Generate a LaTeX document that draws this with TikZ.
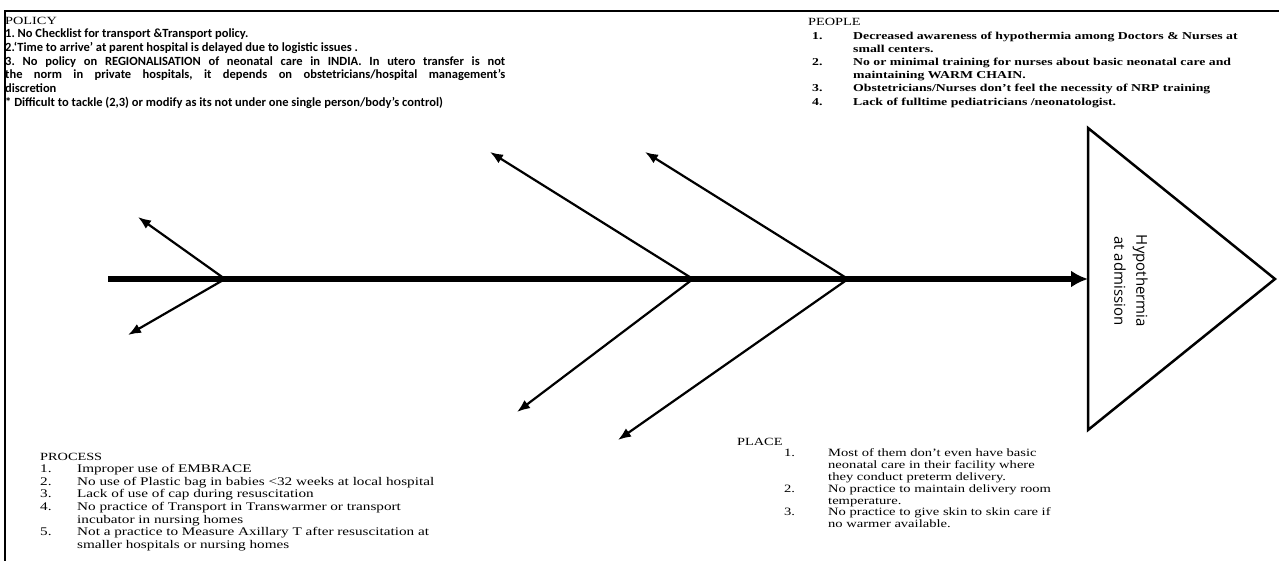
\documentclass[tikz,border=0pt]{standalone}
\usepackage{fontspec}
\setmainfont{Liberation Serif}
\newfontfamily\wordserif[FakeStretch=1.3]{Liberation Serif}
\newfontfamily\wordsans{Carlito}
\newfontfamily\boxsans{Open Sans}
\usepackage{tikz}
\usetikzlibrary{arrows.meta}
\tikzset{>={Latex[length=13pt,width=10pt]}}
\tikzset{
  spine/.style={line width=6pt, -{Latex[length=17pt,width=17pt]}},
  bone/.style={line width=2.2pt, ->},
  heading/.style={anchor=base west, inner sep=0pt, font=\wordserif\fontsize{11}{13}\selectfont},
  listtext/.style={anchor=base west, inner sep=0pt, align=left},
}
\frenchspacing

\begin{document}
\begin{tikzpicture}[x=1pt, y=-1pt]
            \useasboundingbox (0,0) rectangle (1279,561);

            % the four groups of causes
            \node [heading] (policy) at (5,25) {POLICY};
            \node [listtext, font=\wordsans\bfseries\fontsize{12.5}{13.8}\selectfont] (policylist) at (5,37.5) {%
                \begin{tabular}[t]{@{}l@{}}
                1. No Checklist for transport \&Transport policy.\\
                2.‘Time to arrive’ at parent hospital is delayed due to logistic issues .\\
                \makebox[500pt][s]{3. No policy on REGIONALISATION of neonatal care in INDIA. In utero transfer is not}\\
                \makebox[500pt][s]{the norm in private hospitals, it depends on obstetricians/hospital management’s}\\
                discretion\\
                \relax* Difficult to tackle (2,3) or modify as its not under one single person/body’s control)
                \end{tabular}};

            \node [heading] (people) at (808,26) {PEOPLE};
            \node [listtext, font=\wordserif\bfseries\fontsize{10.6}{13.2}\selectfont] (peoplelist) at (812,39.2) {%
                \begin{tabular}[t]{@{}p{41pt}@{}l@{}}
                1. & Decreased awareness of hypothermia among Doctors \& Nurses at\\
                   & small centers.\\
                2. & No or minimal training for nurses about basic neonatal care and\\
                   & maintaining WARM CHAIN.\\
                3. & Obstetricians/Nurses don’t feel the necessity of NRP training\\
                4. & Lack of fulltime pediatricians /neonatologist.
                \end{tabular}};

            \node [heading] (process) at (40,460) {PROCESS};
            \node [listtext, font=\wordserif\fontsize{11.7}{12.6}\selectfont] (processlist) at (40,472.6) {%
                \begin{tabular}[t]{@{}p{37pt}@{}l@{}}
                1. & Improper use of EMBRACE\\
                2. & No use of Plastic bag in babies <32 weeks at local hospital\\
                3. & Lack of use of cap during resuscitation\\
                4. & No practice of Transport in Transwarmer or transport\\
                   & incubator in nursing homes\\
                5. & Not a practice to Measure Axillary T after resuscitation at\\
                   & smaller hospitals or nursing homes
                \end{tabular}};

            \node [heading] (place) at (737,445) {PLACE};
            \node [listtext, font=\wordserif\fontsize{11.2}{11.8}\selectfont] (placelist) at (784,456.8) {%
                \begin{tabular}[t]{@{}p{44pt}@{}l@{}}
                1. & Most of them don’t even have basic\\
                   & neonatal care in their facility where\\
                   & they conduct preterm delivery.\\
                2. & No practice to maintain delivery room\\
                   & temperature.\\
                3. & No practice to give skin to skin care if\\
                   & no warmer available.
                \end{tabular}};

            % frame
            \draw [line width=2pt] (5,561) -- (5,11) -- (1279,11);

            % head of the fish
            \coordinate (headtop) at (1088,128);
            \coordinate (headbot) at (1088,430);
            \coordinate (apex) at (1275,279);
            \draw [line width=2.5pt, line join=miter] (headtop) -- (apex) -- (headbot) -- cycle;
            \node [rotate=-90, align=center, font=\boxsans\fontsize{15}{22}\selectfont] (effect) at (1131,281) {Hypothermia\\at admission};

            % spine and bones
            \coordinate (tail) at (108,279);
            \coordinate (head) at (1088,279);
            \coordinate (j1) at (225,279);
            \coordinate (j2) at (693,279);
            \coordinate (j3) at (848,279);
            \coordinate (t1a) at (138,217);
            \coordinate (t1b) at (128,335);
            \coordinate (t2a) at (490,152);
            \coordinate (t2b) at (517,412);
            \coordinate (t3a) at (645,152);
            \coordinate (t3b) at (618,440);

            \draw [spine] (tail) -- (head);
            \draw [bone] (j1) -- (t1a);
            \draw [bone] (j1) -- (t1b);
            \draw [bone] (j2) -- (t2a);
            \draw [bone] (j2) -- (t2b);
            \draw [bone] (j3) -- (t3a);
            \draw [bone] (j3) -- (t3b);
        \end{tikzpicture}
\end{document}
